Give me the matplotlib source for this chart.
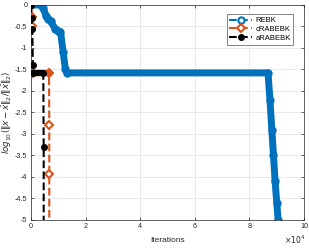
import matplotlib
matplotlib.use('Agg')
import matplotlib.pyplot as plt
import numpy as np

plt.rcParams['font.family'] = ['Liberation Sans', 'DejaVu Sans']
plt.rcParams['mathtext.fontset'] = 'dejavusans'

# iterations in units of 1e4, error as log10 relative error
rebk_x = [0.0, 0.38, 0.45, 0.55, 0.62, 0.72, 0.88, 0.98, 1.08, 1.18, 1.26, 1.32,
          8.68, 8.75, 8.82, 8.88, 8.94, 9.0, 9.05]
rebk_y = [0.0, 0.0, -0.08, -0.25, -0.32, -0.38, -0.55, -0.6, -0.62, -1.1, -1.5, -1.58,
          -1.58, -2.2, -2.9, -3.5, -4.1, -4.6, -5.0]

crabebk_x = [0.0, 0.02, 0.05, 0.08, 0.66, 0.67, 0.67, 0.67]
crabebk_y = [0.0, -0.28, -0.5, -1.58, -1.58, -2.78, -3.93, -5.2]
crabebk_band = (3, 5)

arabebk_x = [0.0, 0.02, 0.04, 0.06, 0.08, 0.45, 0.465, 0.465]
arabebk_y = [0.0, -0.3, -0.55, -1.4, -1.58, -1.58, -3.3, -5.2]
arabebk_band = (4, 6)

c_blue = '#0072BD'
c_orange = '#D95319'
c_black = 'black'

fig = plt.figure(figsize=(3.09, 2.48), dpi=100)
ax = fig.add_axes([0.1003, 0.113, 0.8837, 0.867])

ax.plot(rebk_x, rebk_y, linestyle='--', color=c_blue, lw=1.5, marker='o',
        mfc='white', mec=c_blue, ms=4.5, mew=1.5, label='REBK', zorder=2)
ax.plot(crabebk_x, crabebk_y, linestyle='--', color=c_orange, lw=1.5, marker='D',
        mfc='white', mec=c_orange, ms=4, mew=1.5, label='cRABEBK', zorder=3)
ax.plot(arabebk_x, arabebk_y, linestyle='--', color=c_black, lw=1.5, marker='o',
        mfc=c_black, mec=c_black, ms=4, mew=1, label='aRABEBK', zorder=4)

# dense overlapping markers look like a thick band
ax.plot(rebk_x, rebk_y, color=c_blue, lw=5, solid_joinstyle='round',
        solid_capstyle='round', zorder=2.5)
a, b = crabebk_band
ax.plot(crabebk_x[a:b], crabebk_y[a:b], color=c_orange, lw=4.5, solid_capstyle='round', zorder=3.5)
a, b = arabebk_band
ax.plot(arabebk_x[a:b], arabebk_y[a:b], color=c_black, lw=4.5, solid_capstyle='round', zorder=4.5)

ax.set_xlim(0, 10)
ax.set_ylim(-5, 0)
ax.set_xticks([0, 2, 4, 6, 8, 10])
ax.set_yticks(np.arange(-5, 0.1, 0.5))
ax.set_yticklabels(['-5', '-4.5', '-4', '-3.5', '-3', '-2.5', '-2', '-1.5', '-1', '-0.5', '0'])
ax.grid(True, color='#e6e6e6', lw=0.6)
ax.set_axisbelow(True)
ax.tick_params(direction='in', length=2.5, width=0.5, labelsize=5.2, colors='#262626',
               top=True, right=True, pad=2.5)
for s in ax.spines.values():
    s.set_linewidth(0.5)
    s.set_color('#262626')

ax.set_xlabel('Iterations', fontsize=6, labelpad=5, color='#262626')
ax.set_ylabel(r'$log_{10}(\|x-\hat{x}\|_2/\|\hat{x}\|_2)$', fontsize=6.2, labelpad=1,
              color='#262626')
ax.text(1.005, -0.065, r'$\times10^4$', transform=ax.transAxes, ha='right', va='top',
        fontsize=5.5, color='#262626')

leg = ax.legend(loc='upper right', fontsize=5.5, handlelength=3.0, borderpad=0.35,
                labelspacing=0.2, handletextpad=0.4, fancybox=False,
                bbox_to_anchor=(0.975, 0.975))
leg.get_frame().set_edgecolor('#262626')
leg.get_frame().set_linewidth(0.5)

plt.savefig('out.png', dpi=100)
